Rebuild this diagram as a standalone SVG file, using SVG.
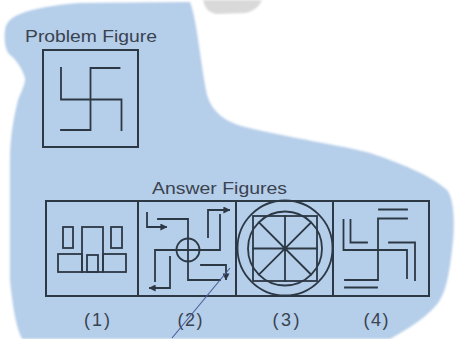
<svg xmlns="http://www.w3.org/2000/svg" width="457" height="339" viewBox="0 0 457 339">
<style>
.ln{fill:none;stroke:#2d3845;stroke-width:1.8;stroke-linecap:square}
.bx{fill:none;stroke:#2d3845;stroke-width:2}
.tx{font-family:"Liberation Sans",Arial,sans-serif;fill:#3a4350}
.lb{font-family:"Liberation Sans",Arial,sans-serif;fill:#3a4350;font-size:18px;text-anchor:middle}
</style>
<defs>
<filter id="soft" x="-5%" y="-5%" width="110%" height="110%"><feGaussianBlur stdDeviation="1.2"/></filter>
<marker id="ah" viewBox="0 0 10 10" refX="8" refY="5" markerWidth="7" markerHeight="7" markerUnits="userSpaceOnUse" orient="auto"><path d="M0,0 L10,5 L0,10 z" fill="#2d3845"/></marker>
</defs>
<rect width="457" height="339" fill="#ffffff"/>
<g id="background">
<path filter="url(#soft)" fill="#b5cee9" d="M20 14 Q40 6 80 3 L190 2 C197 20 200 60 207 95 C212 112 225 122 245 127 C290 138 340 145 370 153 C400 163 430 175 447 190 C455 200 455 230 452 250 C449 275 446 292 438 303 C428 316 410 328 390 339 L22 339 C15 325 12 300 10 280 L10 160 C10 140 13 120 18 100 C22 90 26 82 25 78 C22 68 15 58 10 55 C5 50 4 40 5 30 C6 22 12 17 20 14 Z"/>
<path filter="url(#soft)" fill="#d9d9d9" d="M203 0 L262 0 Q258 10 246 13 L216 14 Q205 12 203 0 Z"/>
</g>
<g id="problem-figure">
<text class="tx" x="25" y="41.5" font-size="17" textLength="132" lengthAdjust="spacingAndGlyphs">Problem Figure</text>
<rect class="bx" x="43" y="50" width="95" height="97"/>
<path class="ln" d="M61 68 V99.5 H121.5 V130 M90.5 68 H119.5 M90.5 68 V130 H61"/>
</g>
<g id="answer-figures">
<text class="tx" x="152" y="194" font-size="17" textLength="135" lengthAdjust="spacingAndGlyphs">Answer Figures</text>
<rect class="bx" x="46" y="201" width="383" height="95"/>
<path class="bx" d="M138 201 V296 M236 201 V296 M333 201 V296"/>
</g>
<g id="fig1">
<rect class="ln" x="63" y="227" width="10" height="21"/>
<rect class="ln" x="82" y="227" width="21" height="45"/>
<rect class="ln" x="111" y="227" width="11" height="21"/>
<rect class="ln" x="58" y="254" width="24" height="18"/>
<rect class="ln" x="103" y="254" width="23" height="18"/>
<rect class="ln" x="87" y="255" width="11" height="17"/>
</g>
<g id="fig2">
<path class="ln" d="M158 219 H188 V280 H220 M155 281 V250 H220 V215"/>
<circle class="ln" cx="188" cy="250" r="11.5"/>
<path class="ln" d="M147 213 V227 H166" marker-end="url(#ah)"/>
<path class="ln" d="M208 237 V210 H229" marker-end="url(#ah)"/>
<path class="ln" d="M201 265 H226 V279" marker-end="url(#ah)"/>
<path class="ln" d="M170 257 V288 H150" marker-end="url(#ah)"/>
</g>
<g id="fig3">
<circle class="ln" cx="285" cy="248" r="47.5"/>
<rect class="ln" x="253" y="216" width="64" height="65"/>
<circle class="ln" cx="285" cy="248.5" r="37"/>
<path class="ln" d="M253 248.5 H317 M285 216 V281 M259 222.5 L311 274.5 M311 222.5 L259 274.5"/>
</g>
<g id="fig4">
<path class="ln" d="M343.5 220 V250 H407 V278 M378 218.5 V280 H345 M378 218.5 H407"/>
<path class="ln" d="M350.5 220 V242.5 H367 M389 242.5 H415 V280 M379 209.5 H407 M345 287.5 H377"/>
</g>
<g id="labels">
<text class="lb" x="97" y="326" textLength="26" lengthAdjust="spacing">(1)</text>
<text class="lb" x="190" y="326" textLength="25" lengthAdjust="spacing">(2)</text>
<text class="lb" x="286" y="326" textLength="27" lengthAdjust="spacing">(3)</text>
<text class="lb" x="376" y="326" textLength="25" lengthAdjust="spacing">(4)</text>
</g>
<g id="connectors">
<path d="M230 268 Q210 292 172 338" fill="none" stroke="#4a5c9c" stroke-width="1.1"/>
</g>
</svg>
